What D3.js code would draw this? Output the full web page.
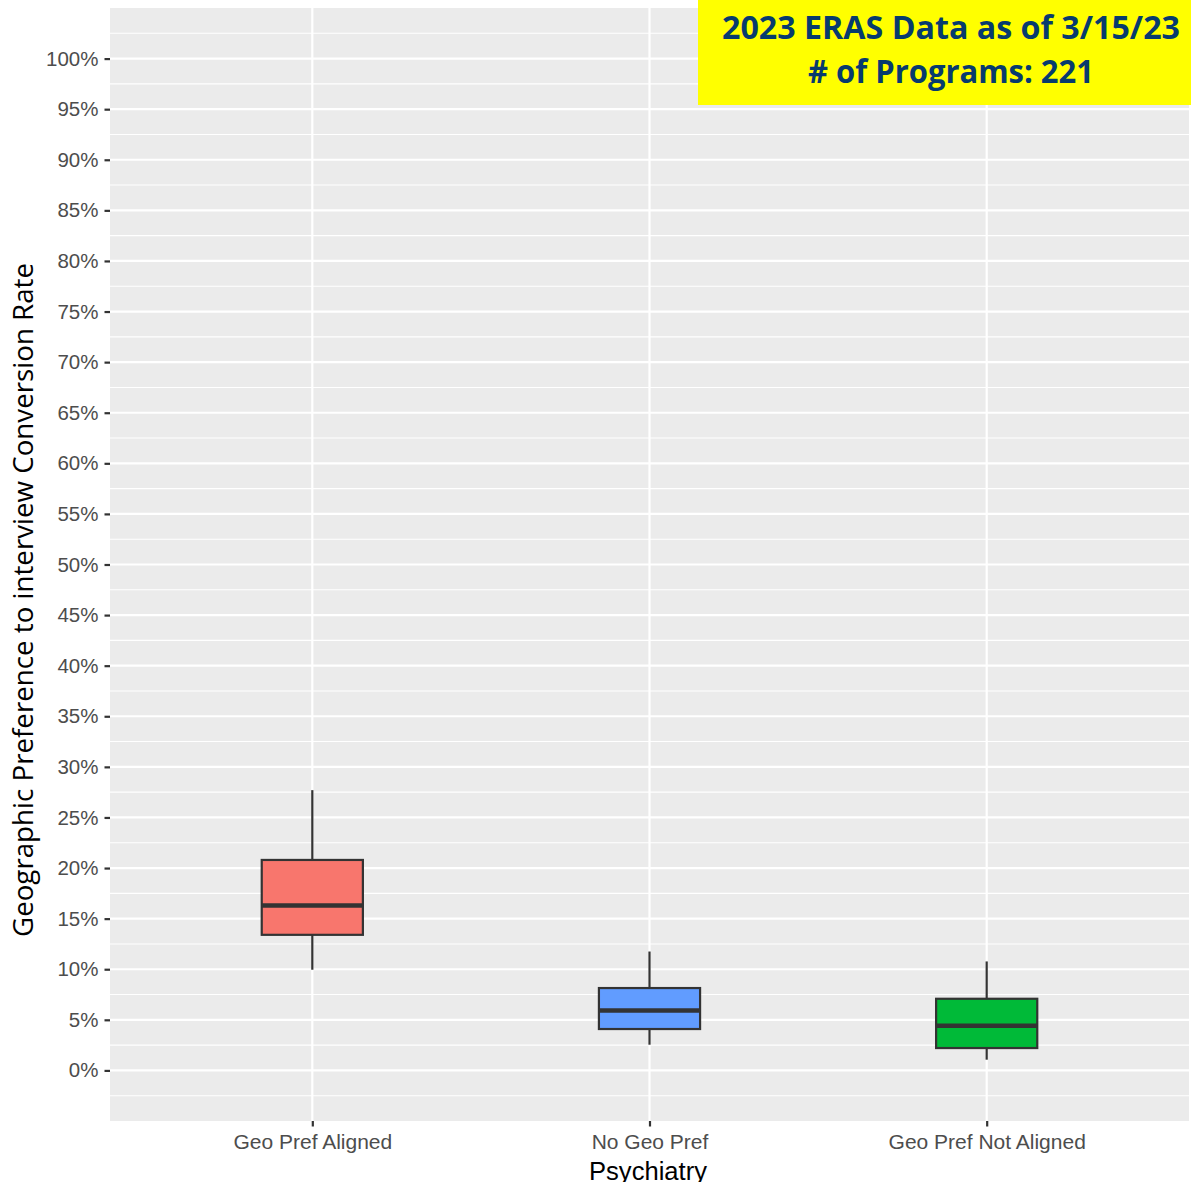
<!DOCTYPE html>
<html>
<head>
<meta charset="utf-8">
<script src="https://cdn.jsdelivr.net/npm/d3@7"></script>
<style>
  html, body { margin: 0; padding: 0; background: #ffffff; }
  svg { display: block; }
</style>
</head>
<body>
<svg id="chart" width="1191" height="1182"></svg>
<script>
// Interview conversion rate by geographic preference, Psychiatry programs
const categories = ["Geo Pref Aligned", "No Geo Pref", "Geo Pref Not Aligned"];
const whiskerLow  = [0.0995, 0.0254, 0.0106];
const q1          = [0.134, 0.0409, 0.0221];
const median      = [0.163, 0.0593, 0.0442];
const q3          = [0.208, 0.0814, 0.0708];
const whiskerHigh = [0.277, 0.1175, 0.1077];
const fills = ["#F8766D", "#619CFF", "#00BA38"];
const yTicks = d3.range(0, 1.0001, 0.05);
const titleLines = ["2023 ERAS Data as of 3/15/23", "# of Programs: 221"];

const boxes = categories.map((c, i) => ({
  cat: c, lo: whiskerLow[i], q1: q1[i], med: median[i], q3: q3[i], hi: whiskerHigh[i], fill: fills[i]
}));

const svg = d3.select("#chart");
const panel = { left: 110, right: 1189, top: 8, bottom: 1121 };

const x = d3.scalePoint().domain(categories).range([panel.left, panel.right]).padding(0.6);
const y = d3.scaleLinear().domain([-0.05, 1.05]).range([panel.bottom, panel.top]);
const boxW = x.step() * 0.3;

// panel background
svg.append("rect")
  .attr("x", panel.left).attr("y", panel.top)
  .attr("width", panel.right - panel.left).attr("height", panel.bottom - panel.top)
  .attr("fill", "#EBEBEB");

// minor gridlines
const minor = d3.range(-0.025, 1.05, 0.05);
svg.append("g").selectAll("line").data(minor).join("line")
  .attr("x1", panel.left).attr("x2", panel.right)
  .attr("y1", d => y(d)).attr("y2", d => y(d))
  .attr("stroke", "#ffffff").attr("stroke-width", 1.1);

// major gridlines
svg.append("g").selectAll("line").data(yTicks).join("line")
  .attr("x1", panel.left).attr("x2", panel.right)
  .attr("y1", d => y(d)).attr("y2", d => y(d))
  .attr("stroke", "#ffffff").attr("stroke-width", 2.2);

svg.append("g").selectAll("line").data(categories).join("line")
  .attr("x1", d => x(d)).attr("x2", d => x(d))
  .attr("y1", panel.top).attr("y2", panel.bottom)
  .attr("stroke", "#ffffff").attr("stroke-width", 2.2);

// y axis
const yAxis = d3.axisLeft(y).tickValues(yTicks).tickFormat(d3.format(".0%")).tickSize(5.5).tickPadding(6);
const gy = svg.append("g").attr("transform", `translate(${panel.left},0)`).call(yAxis);
gy.select(".domain").remove();
gy.selectAll(".tick line").attr("stroke", "#333333").attr("stroke-width", 2.2);
gy.selectAll(".tick text")
  .attr("fill", "#4D4D4D")
  .style("font-family", "'Liberation Sans', Arial, sans-serif")
  .style("font-size", "20.5px");

// x axis
const xAxis = d3.axisBottom(x).tickSize(5.5).tickPadding(8);
const gx = svg.append("g").attr("transform", `translate(0,${panel.bottom})`).call(xAxis);
gx.select(".domain").remove();
gx.selectAll(".tick line").attr("stroke", "#333333").attr("stroke-width", 2.2);
gx.selectAll(".tick text")
  .attr("fill", "#4D4D4D")
  .style("font-family", "'Liberation Sans', Arial, sans-serif")
  .style("font-size", "21px");

// boxplots
const g = svg.append("g");
const bx = g.selectAll("g.box").data(boxes).join("g").attr("class", "box");
bx.append("line")
  .attr("x1", d => x(d.cat)).attr("x2", d => x(d.cat))
  .attr("y1", d => y(d.hi)).attr("y2", d => y(d.q3))
  .attr("stroke", "#333333").attr("stroke-width", 2.2);
bx.append("line")
  .attr("x1", d => x(d.cat)).attr("x2", d => x(d.cat))
  .attr("y1", d => y(d.q1)).attr("y2", d => y(d.lo))
  .attr("stroke", "#333333").attr("stroke-width", 2.2);
bx.append("rect")
  .attr("x", d => x(d.cat) - boxW / 2).attr("width", boxW)
  .attr("y", d => y(d.q3)).attr("height", d => y(d.q1) - y(d.q3))
  .attr("fill", d => d.fill)
  .attr("stroke", "#333333").attr("stroke-width", 2.2);
bx.append("line")
  .attr("x1", d => x(d.cat) - boxW / 2).attr("x2", d => x(d.cat) + boxW / 2)
  .attr("y1", d => y(d.med)).attr("y2", d => y(d.med))
  .attr("stroke", "#333333").attr("stroke-width", 4.5);

// axis titles
svg.append("text")
  .attr("x", 648).attr("y", 1180)
  .attr("text-anchor", "middle")
  .attr("fill", "#000000")
  .attr("textLength", 118).attr("lengthAdjust", "spacingAndGlyphs")
  .style("font-family", "'Liberation Sans', Arial, sans-serif")
  .style("font-size", "25.5px")
  .text("Psychiatry");

svg.append("text")
  .attr("transform", "translate(33,600) rotate(-90)")
  .attr("text-anchor", "middle")
  .attr("fill", "#000000")
  .attr("textLength", 674).attr("lengthAdjust", "spacingAndGlyphs")
  .style("font-family", "'Open Sans', 'Noto Sans', sans-serif")
  .style("font-size", "27.5px")
  .text("Geographic Preference to interview Conversion Rate");

// annotation box
svg.append("rect")
  .attr("x", 698).attr("y", 0).attr("width", 493).attr("height", 105)
  .attr("fill", "#FFFF00");
const lineSpecs = [{ y: 39, len: 458 }, { y: 83, len: 286 }];
svg.append("g").selectAll("text").data(titleLines).join("text")
  .attr("x", 951).attr("y", (d, i) => lineSpecs[i].y)
  .attr("text-anchor", "middle")
  .attr("fill", "#073B6E")
  .attr("textLength", (d, i) => lineSpecs[i].len).attr("lengthAdjust", "spacingAndGlyphs")
  .style("font-family", "'Open Sans', 'Noto Sans', sans-serif")
  .style("font-weight", "bold")
  .style("font-size", "33px")
  .text(d => d);
</script>
</body>
</html>
